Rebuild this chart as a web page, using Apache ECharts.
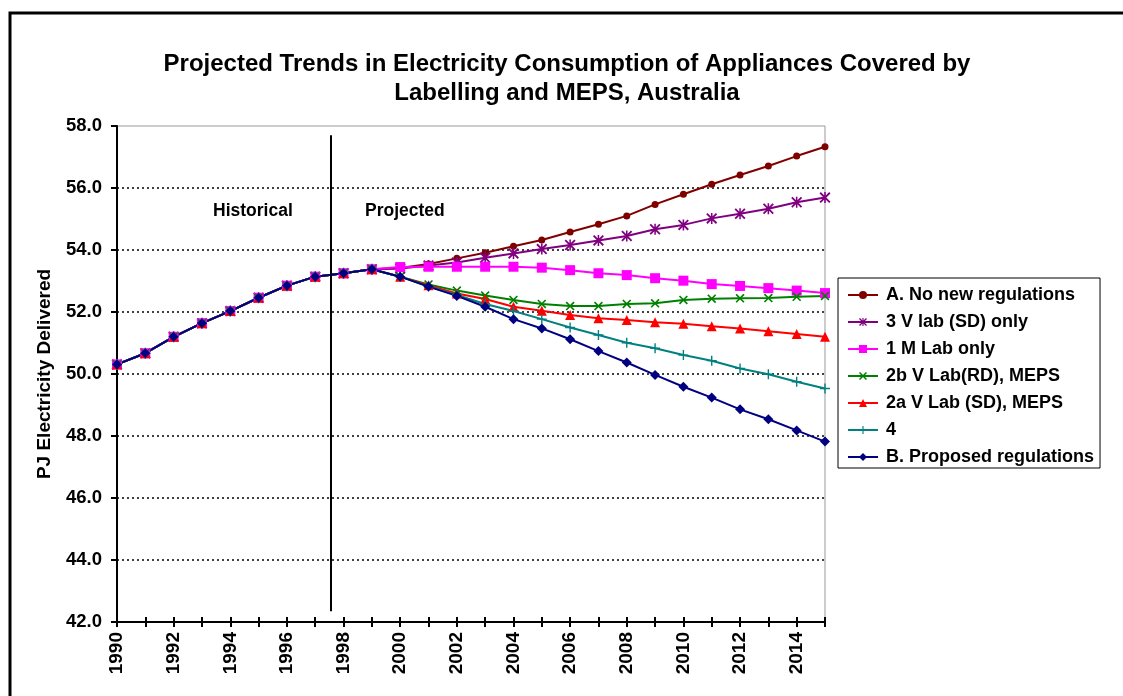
<!DOCTYPE html>
<html>
<head>
<meta charset="utf-8">
<script src="https://cdn.jsdelivr.net/npm/echarts@6/dist/echarts.min.js"></script>
<style>
  html, body { margin: 0; padding: 0; background: #fff; }
  #chart { width: 1123px; height: 696px; }
</style>
</head>
<body>
<div id="chart"></div>
<script>
// Years on the horizontal axis
var years = [];
for (var y = 1990; y <= 2015; y++) years.push(y);

// Shared historical consumption, 1990-1999 (PJ)
var historical = [50.31, 50.67, 51.2, 51.64, 52.03, 52.46, 52.85, 53.14, 53.25, 53.38];

// Scenario projections, 2000-2015 (PJ)
var noNewRegs   = [53.42, 53.55, 53.73, 53.91, 54.12, 54.32, 54.58, 54.83, 55.1, 55.47, 55.8, 56.12, 56.42, 56.71, 57.03, 57.33];
var vLabSDOnly  = [53.4, 53.5, 53.6, 53.75, 53.89, 54.03, 54.16, 54.31, 54.45, 54.67, 54.81, 55.02, 55.17, 55.33, 55.54, 55.69];
var mLabOnly    = [53.45, 53.46, 53.46, 53.46, 53.46, 53.43, 53.35, 53.25, 53.19, 53.09, 53.01, 52.9, 52.84, 52.77, 52.69, 52.61];
var vLabRDMeps  = [53.14, 52.89, 52.69, 52.53, 52.39, 52.26, 52.19, 52.19, 52.26, 52.28, 52.39, 52.43, 52.44, 52.45, 52.49, 52.52];
var vLabSDMeps  = [53.14, 52.86, 52.6, 52.42, 52.17, 52.04, 51.9, 51.8, 51.74, 51.67, 51.62, 51.54, 51.47, 51.38, 51.29, 51.2];
var scenario4   = [53.14, 52.82, 52.55, 52.26, 52.03, 51.77, 51.5, 51.26, 51.01, 50.83, 50.61, 50.43, 50.18, 49.99, 49.75, 49.53];
var proposed    = [53.14, 52.82, 52.52, 52.17, 51.77, 51.47, 51.12, 50.74, 50.37, 49.97, 49.59, 49.24, 48.86, 48.54, 48.18, 47.82];

// Y axis ticks
var yMin = 42, yMax = 58, yStep = 2;

// Marker shapes drawn as filled paths
var starPath  = 'path://M0 1.2L1.2 0L10 8.8L8.8 10Z M8.8 0L10 1.2L1.2 10L0 8.8Z M4.3 0H5.7V10H4.3Z';
var crossPath = 'path://M0 1.3L1.3 0L10 8.7L8.7 10Z M8.7 0L10 1.3L1.3 10L0 8.7Z';
var plusPath  = 'path://M4.3 0H5.7V10H4.3Z M0 4.3H10V5.7H0Z';

var FONT = '"Liberation Sans", Arial, sans-serif';

function buildData(proj) {
  var vals = historical.concat(proj);
  return years.map(function (yr, i) { return [yr, vals[i]]; });
}

var scenarios = [
  { name: 'A. No new regulations', data: noNewRegs,  color: '#800000', symbol: 'circle',   size: 7 },
  { name: '3 V lab (SD) only',     data: vLabSDOnly, color: '#800080', symbol: starPath,   size: 11 },
  { name: '1 M Lab only',          data: mLabOnly,   color: '#FF00FF', symbol: 'rect',     size: 10 },
  { name: '2b V Lab(RD), MEPS',    data: vLabRDMeps, color: '#008000', symbol: crossPath,  size: 9 },
  { name: '2a V Lab (SD), MEPS',   data: vLabSDMeps, color: '#FF0000', symbol: 'triangle', size: 10 },
  { name: '4',                     data: scenario4,  color: '#008080', symbol: plusPath,   size: 10 },
  { name: 'B. Proposed regulations', data: proposed, color: '#000080', symbol: 'diamond',  size: 10 }
];

var series = scenarios.map(function (s) {
  return {
    name: s.name,
    type: 'line',
    xAxisIndex: 0,
    data: buildData(s.data),
    symbol: s.symbol,
    symbolSize: s.size,
    showAllSymbol: true,
    color: s.color,
    lineStyle: { color: s.color, width: 2 },
    itemStyle: { color: s.color, borderWidth: 0 },
    emphasis: { disabled: true },
    animation: false
  };
});

// Divider between historical and projected periods
series[0].markLine = {
  silent: true,
  symbol: ['none', 'none'],
  label: { show: false },
  lineStyle: { color: '#000', width: 2, type: 'solid' },
  data: [[{ coord: [1997.55, 57.7] }, { coord: [1997.55, 42.35] }]]
};

var chart = echarts.init(document.getElementById('chart'), null, { renderer: 'canvas' });
chart.setOption({
  backgroundColor: '#fff',
  animation: false,
  textStyle: { fontFamily: FONT },
  grid: {
    left: 117, top: 126, right: 298, bottom: 74,
    show: true, borderColor: '#999', borderWidth: 1, backgroundColor: 'transparent'
  },
  legend: {
    orient: 'vertical',
    left: 838, top: 278,
    padding: [8, 6, 2, 9],
    itemGap: 9,
    itemWidth: 30,
    itemHeight: 10,
    borderColor: '#000', borderWidth: 1,
    textStyle: { fontFamily: FONT, fontWeight: 'bold', fontSize: 18, lineHeight: 18, color: '#000', padding: [0, 0, 0, 3] },
    data: scenarios.map(function (s) { return s.name; })
  },
  xAxis: [{
    type: 'value',
    min: 1990, max: 2015, interval: 1,
    axisLine: { show: true, lineStyle: { color: '#000', width: 2 } },
    axisTick: { show: true, inside: false, length: 5, lineStyle: { color: '#000', width: 2 } },
    axisLabel: {
      rotate: 90, margin: 10,
      fontFamily: FONT, fontWeight: 'bold', fontSize: 19, color: '#000',
      formatter: function (v) { return (v % 2 === 0 && v < 2015) ? String(v) : ''; }
    },
    splitLine: { show: false }
  }, {
    type: 'value',
    min: 1990, max: 2015, interval: 1,
    position: 'bottom',
    axisLine: { show: false },
    axisTick: { show: true, inside: true, length: 5, lineStyle: { color: '#000', width: 2 } },
    axisLabel: { show: false },
    splitLine: { show: false }
  }],
  yAxis: {
    type: 'value',
    min: yMin, max: yMax, interval: yStep,
    name: 'PJ Electricity Delivered',
    nameLocation: 'middle',
    nameGap: 63,
    nameRotate: 90,
    nameTextStyle: { fontFamily: FONT, fontWeight: 'bold', fontSize: 19, color: '#000' },
    axisLine: { show: true, lineStyle: { color: '#000', width: 2 } },
    axisTick: { show: true, inside: false, length: 6, lineStyle: { color: '#000', width: 2 } },
    axisLabel: {
      margin: 15,
      fontFamily: FONT, fontWeight: 'bold', fontSize: 18.5, color: '#000',
      formatter: function (v) { return v.toFixed(1); }
    },
    splitLine: {
      show: true, showMinLine: false, showMaxLine: false,
      lineStyle: { color: '#000', width: 1.5, type: [2, 3] }
    }
  },
  graphic: [
    { type: 'rect', silent: true, z: -10,
      shape: { x: 10, y: 13, width: 1300, height: 900 },
      style: { fill: 'none', stroke: '#000', lineWidth: 3 } },
    { type: 'text', x: 567, y: 64, silent: true,
      style: { text: 'Projected Trends in Electricity Consumption of Appliances Covered by',
               font: 'bold 24px ' + FONT, fill: '#000', align: 'center', verticalAlign: 'middle' } },
    { type: 'text', x: 567, y: 93, silent: true,
      style: { text: 'Labelling and MEPS, Australia',
               font: 'bold 24px ' + FONT, fill: '#000', align: 'center', verticalAlign: 'middle' } },
    { type: 'text', x: 213, y: 211, silent: true,
      style: { text: 'Historical', font: 'bold 17.5px ' + FONT, fill: '#000', verticalAlign: 'middle' } },
    { type: 'text', x: 365, y: 211, silent: true,
      style: { text: 'Projected', font: 'bold 17.5px ' + FONT, fill: '#000', verticalAlign: 'middle' } }
  ],
  series: series
});
</script>
</body>
</html>
